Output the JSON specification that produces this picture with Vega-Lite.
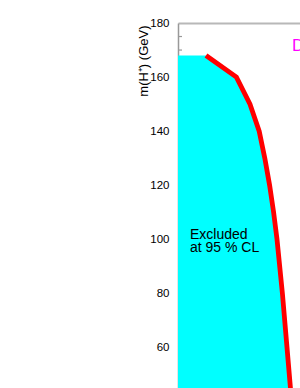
{
  "$schema": "https://vega.github.io/schema/vega-lite/v6.json",
  "autosize": {"type": "none"},
  "padding": {"left": 178, "top": 23, "right": 0, "bottom": 0},
  "width": 122,
  "height": 365,
  "background": "white",
  "config": {"view": {"stroke": null}, "font": "Liberation Sans"},
  "data": {
    "values": [
      {"mass": 168, "br": 0.070},
      {"mass": 160, "br": 0.146},
      {"mass": 150, "br": 0.180},
      {"mass": 140, "br": 0.203},
      {"mass": 130, "br": 0.217},
      {"mass": 120, "br": 0.229},
      {"mass": 110, "br": 0.239},
      {"mass": 100, "br": 0.2475},
      {"mass": 80, "br": 0.261},
      {"mass": 60, "br": 0.2725},
      {"mass": 40, "br": 0.284}
    ]
  },
  "layer": [
    {
      "mark": {"type": "area", "orient": "horizontal", "color": "#00FFFF", "clip": true},
      "encoding": {
        "y": {
          "field": "mass",
          "type": "quantitative",
          "scale": {"domain": [45, 180], "zero": false, "nice": false},
          "axis": {
            "title": "m(H⁺) (GeV)",
            "values": [60, 80, 100, 120, 140, 160, 180],
            "labelOverlap": false,
            "labelBound": false,
            "labelFlush": false,
            "tickSize": 0,
            "domainColor": "#999999",
            "domainWidth": 1.5,
            "grid": false,
            "labelFontSize": 11.5,
            "labelColor": "#000000",
            "labelPadding": 9,
            "titleFontSize": 13,
            "titleFontWeight": "normal",
            "titleColor": "#000000",
            "titleAnchor": "end",
            "titleX": -28,
            "titleY": 2
          }
        },
        "x": {
          "field": "br",
          "type": "quantitative",
          "scale": {"domain": [0, 0.305], "zero": false, "nice": false},
          "axis": {"orient": "top", "labels": false, "ticks": false, "title": null, "grid": false, "domainColor": "#b8b8b8", "domainWidth": 2}
        }
      }
    },
    {
      "mark": {"type": "line", "color": "#FF0000", "strokeWidth": 4.8, "clip": true},
      "encoding": {
        "y": {"field": "mass", "type": "quantitative"},
        "x": {"field": "br", "type": "quantitative"},
        "order": {"field": "mass", "sort": "descending"}
      }
    },
    {
      "data": {"values": [{"m": 175}, {"m": 170}]},
      "mark": {"type": "rule", "color": "#999999", "strokeWidth": 1.2},
      "encoding": {
        "y": {"field": "m", "type": "quantitative"},
        "x": {"datum": 0, "type": "quantitative"},
        "x2": {"datum": 0.01}
      }
    },
    {
      "data": {"values": [{"label": "Excluded\nat 95 % CL"}]},
      "mark": {"type": "text", "lineBreak": "\n", "lineHeight": 12.7, "fontSize": 14, "align": "left", "baseline": "alphabetic", "color": "#000000"},
      "encoding": {
        "text": {"field": "label"},
        "x": {"datum": 0.03, "type": "quantitative"},
        "y": {"datum": 100, "type": "quantitative"}
      }
    },
    {
      "data": {"values": [{"label": "DELPHI"}]},
      "mark": {"type": "text", "fontSize": 17, "align": "left", "baseline": "alphabetic", "color": "#FF00FF"},
      "encoding": {
        "text": {"field": "label"},
        "x": {"datum": 0.285, "type": "quantitative"},
        "y": {"datum": 169.6, "type": "quantitative"}
      }
    }
  ]
}
